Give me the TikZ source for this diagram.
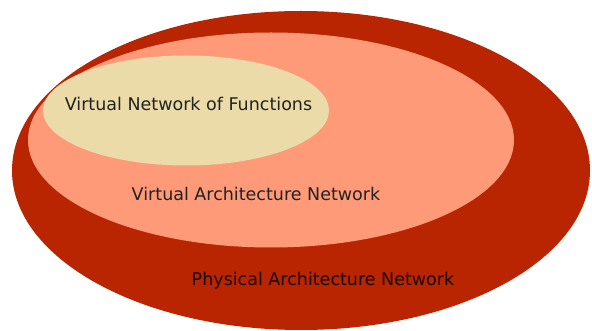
\documentclass[tikz,border=0pt]{standalone}
\usepackage{fontspec}
\setmainfont{DejaVu Sans}
\definecolor{outerred}{HTML}{B82500}
\definecolor{midsalmon}{HTML}{FF9A78}
\definecolor{innertan}{HTML}{EBDBA8}
\definecolor{txt}{HTML}{222222}
\tikzset{
  lbl/.style={text=txt, font=\fontsize{17.5}{20}\selectfont, inner sep=0pt, anchor=center},
}
\begin{document}
\begin{tikzpicture}[x=1pt,y=-1pt]
\useasboundingbox (0,0) rectangle (592,331);
\fill[outerred] (301,170.5) ellipse [x radius=289, y radius=159.5];
\fill[midsalmon] (271,140) ellipse [x radius=243, y radius=107.5];
\fill[innertan] (186,110.5) ellipse [x radius=143, y radius=55];
\node[lbl] (vnf) at (188.5,104) {Virtual Network of Functions};
\node[lbl] (van) at (256,194) {Virtual Architecture Network};
\node[lbl, text=black!85!outerred] (pan) at (323,281) {Physical Architecture Network};
\end{tikzpicture}
\end{document}
